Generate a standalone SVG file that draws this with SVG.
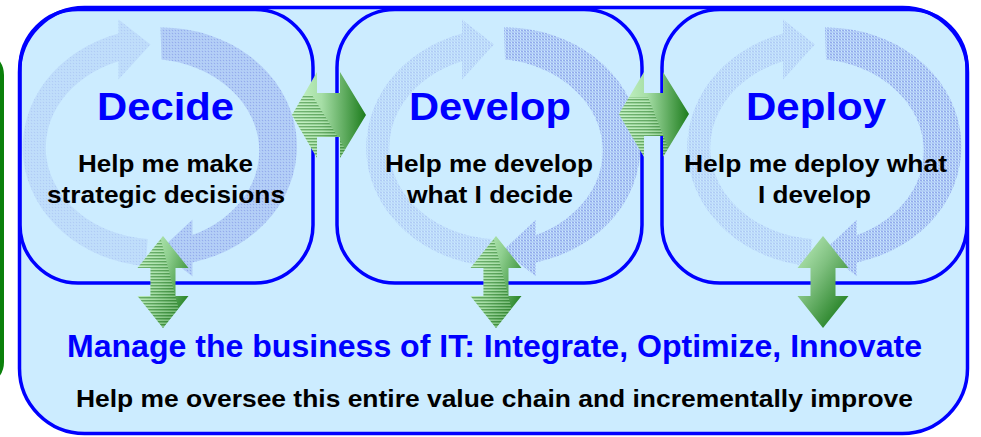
<svg xmlns="http://www.w3.org/2000/svg" xmlns:xlink="http://www.w3.org/1999/xlink" width="981" height="437" viewBox="0 0 981 437">
<style>
.frame{fill:none;stroke:#0000ff;stroke-width:3.5}
.title{font-family:"Liberation Sans",Arial,sans-serif;font-weight:bold;font-size:39px;fill:#0000ff;text-anchor:middle}
.sub{font-family:"Liberation Sans",Arial,sans-serif;font-weight:bold;font-size:24px;fill:#000000;text-anchor:middle}
.big{font-family:"Liberation Sans",Arial,sans-serif;font-weight:bold;font-size:31.5px;fill:#0000ff;text-anchor:middle}
.cycA{fill:url(#dots);opacity:0.3}
.cycB{fill:url(#dots);opacity:0.6}
</style>
<defs>
<pattern id="dots" width="3" height="3" patternUnits="userSpaceOnUse">
<rect width="1" height="1" fill="#5a6ad8"/>
<rect x="1" y="1" width="1" height="1" fill="#8494e6"/>
<rect x="2" y="0" width="1" height="1" fill="#8494e6"/>
<rect x="0" y="2" width="1" height="1" fill="#8494e6"/>
<rect x="2" y="2" width="1" height="1" fill="#5a6ad8"/>
</pattern>
<pattern id="stripes" width="6" height="3" patternUnits="userSpaceOnUse">
<rect width="6" height="1.5" fill="#2f7f2f" opacity="0.55"/>
<rect y="1.5" width="6" height="1.5" fill="#c8f0c8" opacity="0.4"/>
</pattern>
<linearGradient id="gH" x1="0" y1="0" x2="1" y2="0">
<stop offset="0" stop-color="#c8f5c8"/>
<stop offset="0.4" stop-color="#a6dea6"/>
<stop offset="1" stop-color="#1c7c1c"/>
</linearGradient>
<linearGradient id="gV" x1="0" y1="0.2" x2="1" y2="0.8">
<stop offset="0" stop-color="#c8f5c8"/>
<stop offset="0.45" stop-color="#8fcf8f"/>
<stop offset="1" stop-color="#1c7c1c"/>
</linearGradient>
<linearGradient id="gV3" x1="0" y1="0" x2="0.8" y2="1">
<stop offset="0" stop-color="#c0f0c0"/>
<stop offset="0.45" stop-color="#7fc07f"/>
<stop offset="1" stop-color="#1a7a1a"/>
</linearGradient>
<polygon id="h1" points="292,115 317,72 317,93 340,93 340,72 366,115 340,158 340,137 317,137 317,158"/>
<polygon id="h2" points="619,114 644,72 644,93 663,93 663,72 689,114 663,157 663,136 644,136 644,157"/>
<polygon id="v1" points="163,236 188.5,268 175.5,268 175.5,296 188.5,296 163,328 137.5,296 150.5,296 150.5,268 137.5,268"/>
<polygon id="v2" points="496,236 521.5,268 508.5,268 508.5,296 521.5,296 496,328 470.5,296 483.5,296 483.5,268 470.5,268"/>
<polygon id="v3" points="823,236 848.5,268 835.5,268 835.5,296 848.5,296 823,328 797.5,296 810.5,296 810.5,268 797.5,268"/>
<clipPath id="c-h1"><use xlink:href="#h1"/></clipPath>
<clipPath id="c-h2"><use xlink:href="#h2"/></clipPath>
<clipPath id="c-v1"><use xlink:href="#v1"/></clipPath>
<clipPath id="c-v2"><use xlink:href="#v2"/></clipPath>
<g id="cyc">
<path class="cycA" d="M -11.8 118.5 A 135 119 0 0 1 -39 -113.9 L -39 -128 L -7 -103 L -39 -68 L -39 -86.2 A 112 92 0 0 0 -9.8 91.6 Z"/>
<path class="cycB" d="M 3 -120 A 135 119 0 0 1 35 114.9 L 35 129 L 2 103 L 35 72 L 35 87.4 A 112 92 0 0 0 4 -88 Z"/>
</g>
</defs>

<rect width="981" height="437" fill="#ffffff"/>

<g id="left-edge">
<rect x="-40" y="53" width="42" height="331" rx="22" fill="none" stroke="#0a800a" stroke-width="4"/>
</g>

<g id="manage">
<rect x="19.5" y="7.5" width="948" height="426" rx="65" fill="#ccecff" stroke="#0000ff" stroke-width="3.5"/>
<text class="big" x="494.5" y="357" textLength="855" lengthAdjust="spacingAndGlyphs">Manage the business of IT: Integrate, Optimize, Innovate</text>
<text class="sub" x="494.5" y="407" textLength="837" lengthAdjust="spacingAndGlyphs">Help me oversee this entire value chain and incrementally improve</text>
</g>

<g id="decide">
<use xlink:href="#cyc" transform="translate(157.5,147.5)"/>
<rect class="frame" x="20" y="9.5" width="293" height="273.5" rx="58"/>
<text class="title" x="165.5" y="120" textLength="137" lengthAdjust="spacingAndGlyphs">Decide</text>
<text class="sub" x="165.5" y="172" textLength="175" lengthAdjust="spacingAndGlyphs">Help me make</text>
<text class="sub" x="166" y="203" textLength="238" lengthAdjust="spacingAndGlyphs">strategic decisions</text>
</g>

<g id="develop">
<use xlink:href="#cyc" transform="translate(501,147.5)"/>
<rect class="frame" x="337" y="9.5" width="305" height="273.5" rx="58"/>
<text class="title" x="490" y="120" textLength="162" lengthAdjust="spacingAndGlyphs">Develop</text>
<text class="sub" x="489" y="172" textLength="208" lengthAdjust="spacingAndGlyphs">Help me develop</text>
<text class="sub" x="490" y="203" textLength="166" lengthAdjust="spacingAndGlyphs">what I decide</text>
</g>

<g id="deploy">
<use xlink:href="#cyc" transform="translate(822,147.5)"/>
<rect class="frame" x="662" y="9.5" width="305" height="273.5" rx="58"/>
<text class="title" x="816" y="120" textLength="140" lengthAdjust="spacingAndGlyphs">Deploy</text>
<text class="sub" x="815.5" y="172" textLength="263" lengthAdjust="spacingAndGlyphs">Help me deploy what</text>
<text class="sub" x="814.5" y="203" textLength="113" lengthAdjust="spacingAndGlyphs">I develop</text>
</g>

<g id="connectors">
<g id="arrow-decide-develop">
<use xlink:href="#h1" fill="url(#gH)"/>
<polygon points="285,95 312,95 352,160 285,160" fill="url(#stripes)" clip-path="url(#c-h1)"/>
</g>
<g id="arrow-develop-deploy">
<use xlink:href="#h2" fill="url(#gH)"/>
<polygon points="610,97 648,97 673,160 610,160" fill="url(#stripes)" clip-path="url(#c-h2)"/>
</g>
<g id="arrow-decide-manage">
<use xlink:href="#v1" fill="url(#gV)"/>
<polygon points="130,255 161,240 184,330 130,330" fill="url(#stripes)" clip-path="url(#c-v1)"/>
</g>
<g id="arrow-develop-manage">
<use xlink:href="#v2" fill="url(#gV)"/>
<polygon points="463,255 494,240 517,330 463,330" fill="url(#stripes)" clip-path="url(#c-v2)"/>
</g>
<g id="arrow-deploy-manage">
<use xlink:href="#v3" fill="url(#gV3)"/>
</g>
</g>
</svg>
